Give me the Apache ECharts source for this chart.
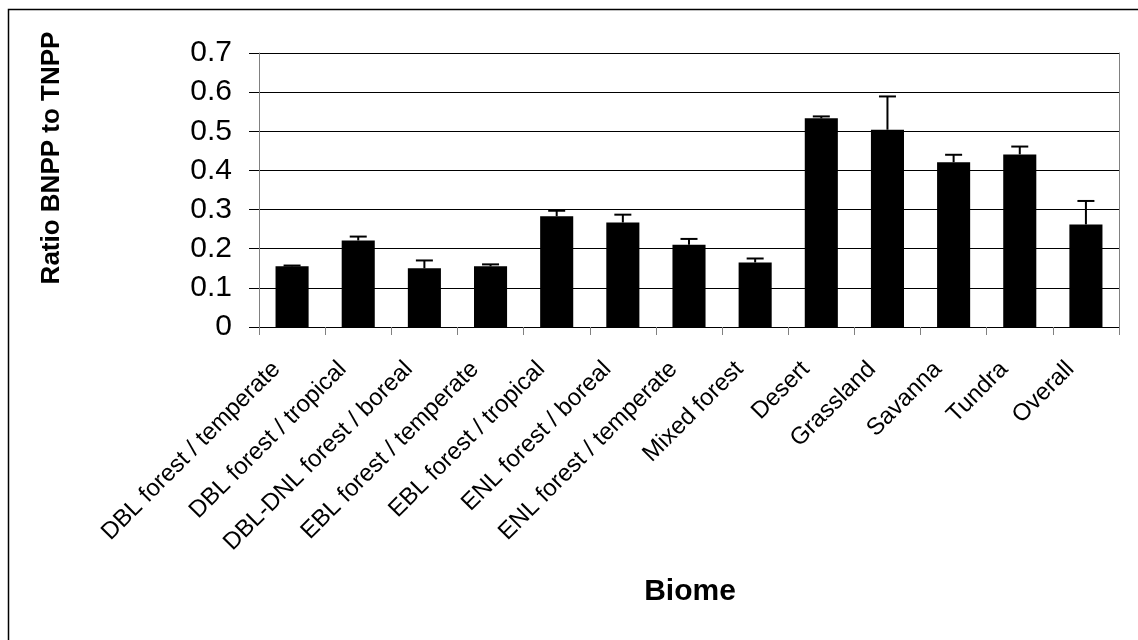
<!DOCTYPE html>
<html>
<head>
<meta charset="utf-8">
<script src="https://cdn.jsdelivr.net/npm/echarts@6/dist/echarts.min.js"></script>
<style>
html,body{margin:0;padding:0;background:#fff;}
#chart{width:1138px;height:640px;}
</style>
</head>
<body>
<div id="chart"></div>
<script>
const categories = ["DBL forest / temperate","DBL forest / tropical","DBL-DNL forest / boreal","EBL forest / temperate","EBL forest / tropical","ENL forest / boreal","ENL forest / temperate","Mixed forest","Desert","Grassland","Savanna","Tundra","Overall"];
const ratios = [0.155,0.221,0.150,0.155,0.283,0.267,0.210,0.165,0.533,0.504,0.421,0.441,0.262];
const errors = [0.002,0.010,0.020,0.005,0.014,0.020,0.015,0.010,0.005,0.085,0.019,0.020,0.060];
const yTitle = "Ratio BNPP to TNPP";
const xTitle = "Biome";

const FONT = "Liberation Sans, Arial, sans-serif";
const chart = echarts.init(document.getElementById('chart'), null, {renderer:'canvas'});
const errData = categories.map((c,i)=>[i, ratios[i], errors[i]]);

chart.setOption({
  animation:false,
  backgroundColor:'#fff',
  grid:{left:259,right:19,top:53,bottom:313,containLabel:false},
  xAxis:{
    type:'category',
    data:categories,
    axisLine:{show:true,lineStyle:{color:'#000',width:1}},
    axisTick:{show:true,alignWithLabel:false,length:8,lineStyle:{color:'#808080',width:1}},
    axisLabel:{interval:0,rotate:45,margin:23,fontSize:24,color:'#000',fontFamily:FONT,padding:[0,22,0,0]},
    splitLine:{show:false}
  },
  yAxis:[{
    type:'value',min:0,max:0.7,interval:0.1,
    axisLine:{show:true,lineStyle:{color:'#808080',width:1}},
    axisTick:{show:true,length:10,lineStyle:{color:'#000',width:1}},
    axisLabel:{margin:27,fontSize:30,color:'#000',fontFamily:FONT},
    splitLine:{show:true,lineStyle:{color:'#000',width:1}}
  },{
    type:'value',min:0,max:0.7,interval:0.1,position:'right',
    axisLine:{show:true,lineStyle:{color:'#808080',width:1}},
    axisTick:{show:false},axisLabel:{show:false},splitLine:{show:false}
  }],
  series:[{
    type:'bar',
    data:ratios,
    barWidth:'50%',
    itemStyle:{color:'#000'},
    z:2
  },{
    type:'custom',
    data:errData,
    z:3,
    renderItem:function(params,api){
      const i = api.value(0), v = api.value(1), e = api.value(2);
      const p1 = api.coord([i, v]);
      const p2 = api.coord([i, v+e]);
      const half = 8.5;
      return {type:'group',children:[
        {type:'line',shape:{x1:p1[0],y1:p1[1],x2:p2[0],y2:p2[1]},style:{stroke:'#000',lineWidth:2}},
        {type:'line',shape:{x1:p2[0]-half,y1:p2[1],x2:p2[0]+half,y2:p2[1]},style:{stroke:'#000',lineWidth:2}}
      ]};
    }
  }],
  graphic:[
    {type:'rect',left:6,top:7,shape:{width:1200,height:700},style:{fill:'none',stroke:'#000',lineWidth:1.5},silent:true,z:-1},
    {type:'text',x:52,y:158,rotation:Math.PI/2,style:{text:yTitle,font:'bold 26px '+FONT,fill:'#000',textAlign:'center',textVerticalAlign:'middle'}},
    {type:'text',x:690,y:592,style:{text:xTitle,font:'bold 30px '+FONT,fill:'#000',textAlign:'center',textVerticalAlign:'middle'}}
  ]
});
</script>
</body>
</html>
